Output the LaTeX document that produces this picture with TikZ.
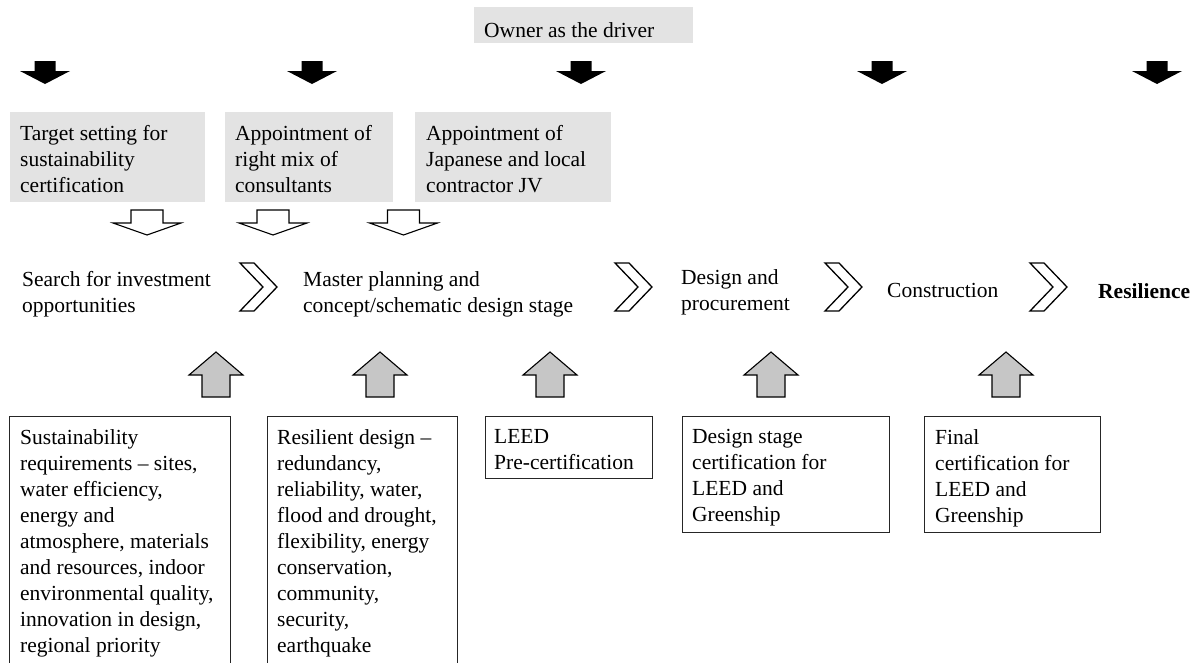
\documentclass[tikz,border=0pt]{standalone}
\usepackage{fontspec}
\setmainfont{Liberation Serif}
\begin{document}
\begin{tikzpicture}[x=1pt,y=-1pt,
  every node/.style={font=\fontsize{21.5}{26}\selectfont},
  txt/.style={anchor=north west,inner sep=0pt,align=left},
  graybox/.style={anchor=north west,fill=gray!22,draw=none,inner sep=0pt},
  wbox/.style={anchor=north west,draw=black!85,line width=1.3pt,fill=none,inner sep=0pt},
  blackdown/.pic={\fill[black] (-10.5,0) -- (10.5,0) -- (10.5,10) -- (25,10) -- (0,23) -- (-25,10) -- (-10.5,10) -- cycle;},
  whitedown/.pic={\draw[line width=1.1pt,fill=white,line join=miter] (-16,0) -- (16,0) -- (16,13) -- (34,13) -- (0,25) -- (-34,13) -- (-16,13) -- cycle;},
  grayup/.pic={\draw[line width=1.1pt,fill=gray!45] (0,0) -- (27,23) -- (14,23) -- (14,45) -- (-14,45) -- (-14,23) -- (-27,23) -- cycle;},
  chev/.pic={\draw[line width=1.3pt,line join=miter] (0,0) -- (14,0) -- (37,24) -- (14,48) -- (0,48) -- (23,24) -- cycle;}
]
\useasboundingbox (0,0) rectangle (1200,662);
\clip (0,0) rectangle (1200,662);
\fill[white] (0,0) rectangle (1200,662);

% owner
\node[graybox,minimum width=219pt,minimum height=36pt] (ownerbox) at (474,7) {};
\node[txt] (owner) at (484,22) {Owner as the driver};

% black arrows
\foreach \cx/\nm in {45/ba1,312/ba2,581/ba3,882/ba4,1157/ba5}
  \pic (\nm) at (\cx,61) {blackdown};

% gray boxes
\node[graybox,minimum width=195pt,minimum height=90pt] (g1) at (10,112) {};
\node[graybox,minimum width=168pt,minimum height=90pt] (g2) at (225,112) {};
\node[graybox,minimum width=196pt,minimum height=90pt] (g3) at (415,112) {};
\node[txt] (g1t) at (20,125) {Target setting for\\sustainability\\certification};
\node[txt] (g2t) at (235,125) {Appointment of\\right mix of\\consultants};
\node[txt] (g3t) at (426,125) {Appointment of\\Japanese and local\\contractor JV};

% white down arrows
\foreach \cx/\nm in {147/wa1,273/wa2,403.5/wa3}
  \pic (\nm) at (\cx,210) {whitedown};

% stages
\node[txt] (s1) at (22,271) {Search for investment\\opportunities};
\node[txt] (s2) at (303,271) {Master planning and\\concept/schematic design stage};
\node[txt] (s3) at (681,269) {Design and\\procurement};
\node[txt] (s4) at (887,283) {Construction};
\node[txt,font=\fontsize{21.5}{26}\selectfont\bfseries] (s5) at (1098,283) {Resilience};
\foreach \x/\nm in {240/c1,615/c2,825/c3,1030/c4}
  \pic (\nm) at (\x,263) {chev};

% gray up arrows
\foreach \cx/\nm in {216/ua1,380/ua2,550/ua3,771/ua4,1006/ua5}
  \pic (\nm) at (\cx,352) {grayup};

% white boxes
\node[wbox,minimum width=221pt,minimum height=270pt] (b1) at (9,416) {};
\node[wbox,minimum width=190pt,minimum height=270pt] (b2) at (267,416) {};
\node[wbox,minimum width=167pt,minimum height=62pt] (b3) at (485,416) {};
\node[wbox,minimum width=207pt,minimum height=116pt] (b4) at (682,416) {};
\node[wbox,minimum width=176pt,minimum height=116pt] (b5) at (924,416) {};

\node[txt] (b1t) at (20,429) {Sustainability\\requirements -- sites,\\water efficiency,\\energy and\\atmosphere, materials\\and resources, indoor\\environmental quality,\\innovation in design,\\regional priority};
\node[txt] (b2t) at (277,429) {Resilient design --\\redundancy,\\reliability, water,\\flood and drought,\\flexibility, energy\\conservation,\\community,\\security,\\earthquake};
\node[txt] (b3t) at (494,429) {LEED\\Pre-certification};
\node[txt] (b4t) at (692,429) {Design stage\\certification for\\LEED and\\Greenship};
\node[txt] (b5t) at (935,429) {Final\\certification for\\LEED and\\Greenship};
\end{tikzpicture}
\end{document}
